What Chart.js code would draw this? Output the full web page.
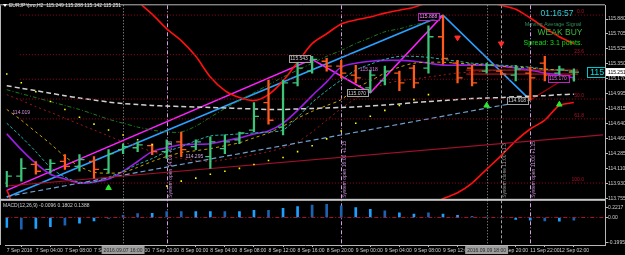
<!DOCTYPE html>
<html>
<head>
<meta charset="utf-8">
<script src="https://cdn.jsdelivr.net/npm/chart.js@4.4.1/dist/chart.umd.min.js"></script>
<style>
  html, body { margin: 0; padding: 0; background: #000; overflow: hidden; }
  #wrap { position: relative; width: 625px; height: 255px; }
</style>
</head>
<body>
<div id="wrap"><canvas id="chart" width="625" height="255"></canvas></div>
<script>
// ============================================
// EURJPY H2 — MT4 style chart
// ============================================

// time axis (one label every 2 bars)
const timeLabels = ['7 Sep 2016', '7 Sep 04:00', '7 Sep 08:00', '7 Sep 12:00', '7 Sep 16:00', '7 Sep 20:00',
  '8 Sep 00:00', '8 Sep 04:00', '8 Sep 08:00', '8 Sep 12:00', '8 Sep 16:00', '8 Sep 20:00',
  '9 Sep 00:00', '9 Sep 04:00', '9 Sep 08:00', '9 Sep 12:00', '9 Sep 16:00', '9 Sep 20:00',
  '11 Sep 22:00', '12 Sep 02:00'];

// OHLC, one entry per H2 bar
const barOpen = [113.934, 114.015, 114.155, 114.097, 114.190, 114.132, 114.190, 114.097, 114.330, 114.353,
  114.377, 114.307, 114.423, 114.365, 114.248, 114.342, 114.447, 114.563, 114.889, 114.598,
  115.122, 115.262, 115.379, 115.321, 115.215, 115.064, 115.146, 115.239, 115.297, 115.297,
  115.670, 115.356, 115.297, 115.262, 115.262, 115.215, 115.239, 115.356, 115.239, 115.249];
const barHigh = [114.074, 114.225, 114.190, 114.213, 114.272, 114.272, 114.248, 114.330, 114.400, 114.423,
  114.400, 114.447, 114.540, 114.447, 114.482, 114.505, 114.540, 114.889, 115.157, 115.157,
  115.356, 115.437, 115.414, 115.391, 115.332, 115.274, 115.321, 115.262, 115.332, 115.799,
  115.925, 115.391, 115.332, 115.356, 115.274, 115.332, 115.309, 115.437, 115.321, 115.288];
const barLow = [113.887, 113.957, 114.038, 114.050, 114.097, 114.074, 113.992, 114.050, 114.283, 114.307,
  114.272, 114.225, 114.248, 114.330, 114.108, 114.283, 114.400, 114.540, 114.633, 114.505,
  115.087, 115.239, 115.262, 115.181, 115.122, 115.006, 115.099, 115.029, 115.064, 115.239,
  115.344, 115.122, 115.087, 115.239, 115.216, 115.146, 114.918, 115.146, 115.204, 115.142];
const barClose = [114.015, 114.108, 114.074, 114.167, 114.132, 114.213, 114.097, 114.283, 114.365, 114.388,
  114.307, 114.400, 114.330, 114.423, 114.423, 114.423, 114.528, 114.726, 114.679, 115.122,
  115.297, 115.402, 115.321, 115.239, 115.181, 115.215, 115.262, 115.122, 115.122, 115.670,
  115.414, 115.181, 115.122, 115.332, 115.227, 115.286, 115.181, 115.215, 115.286, 115.251];

// moving averages / bands (null = not on screen)
const maSlow = [115.088, 115.059, 115.030, 115.000, 114.971, 114.942, 114.919, 114.895, 114.877, 114.866,
  114.854, 114.848, 114.842, 114.837, 114.831, 114.825, 114.819, 114.813, 114.807, 114.807,
  114.813, 114.819, 114.825, 114.831, 114.837, 114.848, 114.860, 114.872, 114.889, 114.901,
  114.913, 114.924, 114.936, 114.942, 114.948, 114.959, 114.965, 114.971, 114.983, 114.988];
const maPurple = [114.517, 114.330, 114.167, 114.039, 113.981, 113.934, 113.945, 113.981, 114.074, 114.190,
  114.307, 114.353, 114.388, 114.394, 114.400, 114.435, 114.470, 114.517, 114.551, 114.644,
  114.796, 114.971, 115.134, 115.309, 115.356, 115.379, 115.390, 115.390, 115.379, 115.356,
  115.333, 115.333, 115.333, 115.333, 115.321, 115.298, 115.274, 115.239, 115.216, 115.181];
const maTeal = [114.644, 114.482, 114.307, 114.120, 114.004, 113.945, 113.945, 114.004, 114.074, 114.155,
  114.225, 114.307, 114.365, 114.435, 114.493, 114.505, 114.517, 114.528, 114.540, 114.563,
  114.715, 114.889, 115.030, 115.157, 115.274, 115.344, 115.402, 115.437, 115.437, 115.425,
  115.402, 115.379, 115.356, 115.344, 115.333, 115.321, 115.309, 115.286, 115.274, 115.262];
const maYellow = [114.807, 114.680, 114.540, 114.400, 114.249, 114.132, 114.062, 114.051, 114.062, 114.120,
  114.190, 114.249, 114.295, 114.318, 114.342, 114.377, 114.412, 114.470, 114.528, 114.609,
  114.703, 114.784, 114.854, 114.924, 115.059, 115.146, 115.239, 115.309, 115.356, 115.367,
  115.367, 115.356, 115.344, 115.333, 115.321, 115.309, 115.298, 115.286, 115.274, 115.262];
const maGreen = [115.041, 114.994, 114.948, 114.901, 114.854, 114.807, 114.750, 114.691, 114.644, 114.598,
  114.563, 114.540, 114.540, 114.609, 114.715, 114.819, 114.913, 115.006, 115.099, 115.192,
  115.274, 115.356, 115.437, 115.507, 115.589, 115.659, 115.729, 115.764, 115.810, 115.845,
  null, null, null, null, null, null, null, null, null, null];
const maDarkRed = [114.983, 114.913, 114.842, 114.773, 114.703, 114.633, 114.563, 114.493, 114.423, 114.365,
  114.307, 114.260, 114.225, 114.202, 114.190, 114.213, 114.237, 114.272, 114.307, 114.353,
  114.423, 114.540, 114.680, 114.819, 114.936, 115.030, 115.111, 115.146, 115.169, 115.192,
  115.216, 115.239, 115.251, 115.262, 115.274, 115.274, 115.274, 115.274, 115.274, 115.274];
const bandUpper = [null, null, null, null, null, null, null, null, 116.265, 116.090,
  115.938, 115.764, 115.624, 115.437, 115.192, 115.030, 114.948, 114.913, 114.983, 115.146,
  115.367, 115.589, 115.705, 115.822, 115.869, 115.904, 115.950, 115.985, 116.020, 116.078,
  116.113, 116.125, 116.125, 116.090, 116.043, 115.997, 115.892, 115.775, 115.670, 115.589];
const bandLower = [113.849, 113.549, null, null, null, null, null, null, null, null,
  null, null, null, null, null, null, null, null, null, null,
  null, null, null, null, null, null, null, null, null, 113.665,
  113.748, 113.818, 113.934, 114.097, 114.260, 114.435, 114.575, 114.680, 114.854, 114.889];
const sarDots = [115.227, 115.123, 115.018, 114.901, 114.807, 114.715, 114.633, 114.563, 114.505, 114.447,
  114.388, 113.899, 113.957, 113.992, 114.039, 114.074, 114.108, 114.155, 114.202, 114.237,
  114.307, 114.377, 114.458, 114.551, 114.644, 114.726, 114.796, 114.854, 114.924, 114.983,
  null, null, null, null, null, null, null, null, null, null];

// zigzags, trend lines and range box (bar index, price)
const zigBlueBars = [0, 30, 36];
const zigBluePrices = [113.766, 115.925, 114.918];
const zigMagentaBars = [0, 21, 25, 30];
const zigMagentaPrices = [113.847, 115.402, 115.006, 115.925];
const zigRedBars = [36, 39];
const zigRedPrices = [114.918, 115.239];
const trendSteelBars = [0, 36];
const trendSteelPrices = [113.774, 114.918];
const trendMaroonBars = [0, 41];
const trendMaroonPrices = [113.899, 114.505];
const rangeBars = [31.6, 39.3];
const rangeTop = 115.274;
const rangeBottom = 115.227;

// signal arrows
const buyArrowBars = [7, 33, 38];
const buyArrowPrices = [113.876, 114.854, 114.866];
const sellArrowBars = [31, 34];
const sellArrowPrices = [115.659, 115.589];

// fibonacci retracement
const fibHigh = 115.927;
const fibLow = 113.934;
const fibRatios = [0, 23.6, 38.2, 50.0, 61.8, 100.0];

// MACD histogram
const macdHist = [-0.072, -0.084, -0.079, -0.067, -0.055, -0.041, -0.024, -0.007, 0.016, 0.029,
  0.031, 0.043, 0.043, 0.043, 0.043, 0.043, 0.043, 0.052, 0.052, 0.067,
  0.079, 0.091, 0.095, 0.084, 0.072, 0.059, 0.048, 0.034, 0.024, 0.034,
  0.024, 0.016, 0.009, 0.002, -0.003, -0.014, -0.019, -0.024, -0.026, -0.019];

// price axis labels
const priceTicks = [115.880, 115.705, 115.525, 115.350, 115.170, 114.995, 114.815, 114.640, 114.460, 114.285, 114.110, 113.930, 113.755];
const macdTickLabels = ['-0.1995', '0.00', '0.2217'];

// --------------------------------------------

const FONT = "'Liberation Sans', Arial, sans-serif";
const X_MIN = -0.1, X_MAX = 41.14;
const Y_MAX = 116.043, Y_MIN = 113.735;
const M_MIN = -0.2, M_MAX = 0.1286;

const UP = '#3cc47a', DOWN = '#ff5a1a';
const barColors = barClose.map((c, i) => c >= barOpen[i] ? UP : DOWN);
const macdShade = 'ldlldlldddlddlldlldlldddlldlldlldddlldld';
const macdColors = macdHist.map((v, i) => macdShade[i] === 'd' ? '#1c62b0' : '#1ea0ff');

const pts = (vals) => vals.map((v, i) => ({ x: i, y: v })).filter(p => p.y != null);
const pair = (bars, prices) => bars.map((b, i) => ({ x: b, y: prices[i] }));

function lineSet(data, color, dash, width, tension) {
  return {
    type: 'line', data, borderColor: color, borderDash: dash || [], borderWidth: width || 1,
    pointRadius: 0, tension: tension == null ? 0.3 : tension, yAxisID: 'y', order: 5
  };
}

const fibPrices = fibRatios.map(r => fibHigh - (fibHigh - fibLow) * r / 100);

const datasets = [
  // bars
  { type: 'bar', data: barHigh.map((h, i) => ({ x: i, y: [barLow[i], h] })), backgroundColor: barColors,
    barThickness: 1.6, grouped: false, yAxisID: 'y', order: 1 },
  { type: 'line', showLine: false, data: barOpen.map((o, i) => ({ x: i - 0.17, y: o })), pointStyle: 'line',
    pointRadius: 2.6, pointBorderWidth: 1.3, pointBorderColor: barColors, yAxisID: 'y', order: 1 },
  { type: 'line', showLine: false, data: barClose.map((c, i) => ({ x: i + 0.17, y: c })), pointStyle: 'line',
    pointRadius: 2.6, pointBorderWidth: 1.3, pointBorderColor: barColors, yAxisID: 'y', order: 1 },

  // fibonacci levels
  ...fibPrices.map(p => lineSet([{ x: 0.9, y: p }, { x: X_MAX, y: p }], '#9a0a1e', [1, 2], 1, 0)),

  // indicators
  lineSet(pts(maSlow), '#d0d0d0', [5, 3], 1.5),
  lineSet(pair(trendMaroonBars, trendMaroonPrices), '#a0102a', [], 1.2, 0),
  lineSet(pair(trendSteelBars, trendSteelPrices), '#6f9fcf', [5, 3], 1.2, 0),
  lineSet(pts(maDarkRed), '#9a1a1a', [2, 3], 1),
  lineSet(pts(maGreen), '#1d7a1d', [4, 2, 1, 2], 1),
  lineSet(pts(maYellow), '#c8a000', [3, 3], 1),
  lineSet(pts(maTeal), '#20b2aa', [3, 2], 1),
  lineSet(pts(maPurple), '#9a1ee6', [], 1.6),
  lineSet(pts(bandUpper), '#ff1010', [], 1.6),
  lineSet(pts(bandLower), '#ff1010', [], 1.6),
  lineSet(rangeBars.map(b => ({ x: b, y: rangeTop })), '#e01818', [], 1, 0),
  lineSet(rangeBars.map(b => ({ x: b, y: rangeBottom })), '#e01818', [], 1, 0),
  lineSet(pair(zigMagentaBars, zigMagentaPrices), '#ff20ff', [], 1.6, 0),
  lineSet(pair(zigBlueBars, zigBluePrices), '#2aa0ff', [], 1.6, 0),
  lineSet(pair(zigRedBars, zigRedPrices), '#b00000', [], 1.2, 0),

  // parabolic SAR
  { type: 'line', showLine: false, data: pts(sarDots), pointStyle: 'rect', pointRadius: 1.1,
    pointBackgroundColor: '#ffff00', pointBorderWidth: 0, yAxisID: 'y', order: 0 },
  // arrows
  { type: 'line', showLine: false, data: pair(buyArrowBars, buyArrowPrices), pointStyle: 'triangle', pointRadius: 3.2,
    pointBackgroundColor: '#2ee62e', pointBorderColor: '#2ee62e', yAxisID: 'y', order: 0 },
  { type: 'line', showLine: false, data: pair(sellArrowBars, sellArrowPrices), pointStyle: 'triangle', pointRotation: 180,
    pointRadius: 3.2, pointBackgroundColor: '#ff2a2a', pointBorderColor: '#ff2a2a', yAxisID: 'y', order: 0 },

  // MACD
  { type: 'bar', data: macdHist.map((v, i) => ({ x: i, y: v })), backgroundColor: macdColors,
    barThickness: 2, grouped: false, yAxisID: 'y2', order: 2 },
  { type: 'line', data: [{ x: X_MIN, y: 0 }, { x: X_MAX, y: 0 }], borderColor: '#b0102a', borderDash: [4, 2, 1, 2],
    borderWidth: 1, pointRadius: 0, yAxisID: 'y2', order: 3 }
];

// event lines and their notes
const vLines = [
  { bar: 8, color: '#a0a0a0', dash: [1, 2] },
  { bar: 11, color: '#d49ee0', dash: [4, 2, 1, 2], note: 'System open 14:00 +1.18' },
  { bar: 23, color: '#d49ee0', dash: [4, 2, 1, 2], note: 'System open 16:00 +1.15' },
  { bar: 33, color: '#a0a0a0', dash: [1, 2] },
  { bar: 34, color: '#a0a0a0', dash: [3, 2], note: 'System close 11:00 +1.3' },
  { bar: 36, color: '#d49ee0', dash: [4, 2, 1, 2], note: 'System open 11:00 +1.15' }
];
const timeMarks = [{ bar: 8, text: '2016.09.07 16:00' }, { bar: 33, text: '2016.09.09 18:00' }];
const priceNotes = [
  { bar: 20.1, price: 115.414, text: '115.543', color: '#d0d0d0', box: '#a0a0a0' },
  { bar: 24.9, price: 115.280, text: '115.318', color: '#e070e0' },
  { bar: 24.1, price: 115.006, text: '115.070', color: '#d0d0d0', box: '#a0a0a0' },
  { bar: 29.0, price: 115.915, text: '115.888', color: '#ff90ff', box: '#c020c0' },
  { bar: 35.1, price: 114.913, text: '114.918', color: '#d0d0d0', box: '#a0a0a0' },
  { bar: 1.0, price: 114.779, text: '114.019', color: '#d090d0' },
  { bar: 12.9, price: 114.254, text: '114.295', color: '#d0a0e0' },
  { bar: 37.9, price: 115.175, text: '115.170', color: '#e070e0', box: '#c020c0' }
];

function txt(ctx, s, x, y, color, size, align, base) {
  ctx.fillStyle = color;
  ctx.font = size + 'px ' + FONT;
  ctx.textAlign = align || 'left';
  ctx.textBaseline = base || 'middle';
  ctx.fillText(s, x, y);
}

const overlay = {
  id: 'overlay',
  beforeDatasetsDraw(chart) {
    const { ctx, chartArea: a, scales: { x } } = chart;
    ctx.save();
    ctx.lineWidth = 1;
    vLines.forEach(v => {
      const px = Math.round(x.getPixelForValue(v.bar)) + 0.5;
      ctx.strokeStyle = v.color;
      ctx.setLineDash(v.dash);
      ctx.beginPath(); ctx.moveTo(px, a.top); ctx.lineTo(px, a.bottom); ctx.stroke();
    });
    ctx.restore();
  },
  afterDraw(chart) {
    const { ctx, chartArea: a, scales: { x, y, y2 } } = chart;
    ctx.save();

    // pane frames
    ctx.strokeStyle = '#b8b8b8'; ctx.lineWidth = 1; ctx.setLineDash([]);
    ctx.beginPath();
    ctx.moveTo(0.5, a.top); ctx.lineTo(0.5, a.bottom);
    ctx.moveTo(0, a.top - 0.5); ctx.lineTo(a.right, a.top - 0.5);
    ctx.stroke();
    ctx.fillStyle = '#c8c8c8';
    ctx.fillRect(0, y.bottom - 1, a.right, 2);

    // notes on event lines
    vLines.filter(v => v.note).forEach(v => {
      const px = Math.round(x.getPixelForValue(v.bar)) + 1.5;
      ctx.save();
      ctx.translate(px, y.bottom - 2);
      ctx.rotate(-Math.PI / 2);
      txt(ctx, v.note, 0, 0, v.color === '#a0a0a0' ? '#9a9a9a' : '#c890d8', 5, 'left', 'top');
      ctx.restore();
    });

    // fibonacci labels
    fibPrices.forEach((p, k) => {
      if (k === 2) return;
      txt(ctx, fibRatios[k].toFixed(1), a.right - 21, y.getPixelForValue(p) - 1, '#b0102a', 5, 'right', 'bottom');
    });

    // price notes
    priceNotes.forEach(n => {
      const px = x.getPixelForValue(n.bar), py = y.getPixelForValue(n.price);
      ctx.font = '5px ' + FONT;
      const w = ctx.measureText(n.text).width + 3;
      if (n.box) {
        ctx.fillStyle = '#000';
        ctx.fillRect(px - w / 2, py - 3.5, w, 7);
        ctx.strokeStyle = n.box;
        ctx.strokeRect(Math.round(px - w / 2) + 0.5, Math.round(py - 3.5) + 0.5, Math.round(w), 7);
      }
      txt(ctx, n.text, px, py + 0.5, n.color, 5, 'center');
    });

    // right edge price tag (clipped by axis)
    const lastPrice = barClose[barClose.length - 1];
    const cy = y.getPixelForValue(lastPrice);
    ctx.save();
    ctx.beginPath(); ctx.rect(0, 0, a.right, chart.height); ctx.clip();
    ctx.strokeStyle = '#00c8c8';
    ctx.strokeRect(587.5, Math.round(cy - 5) + 0.5, 30, 10);
    txt(ctx, lastPrice.toFixed(3), 590, cy + 0.5, '#00e0e0', 9, 'left');
    ctx.restore();

    // current price on axis
    ctx.fillStyle = '#ffffff';
    ctx.fillRect(a.right + 1, cy - 4, 20, 8);
    txt(ctx, lastPrice.toFixed(3), a.right + 3, cy + 0.5, '#000', 5, 'left');

    // headers
    ctx.fillStyle = '#ffffff';
    ctx.beginPath(); ctx.moveTo(3, 4); ctx.lineTo(7, 4); ctx.lineTo(5, 7); ctx.fill();
    txt(ctx, 'EURJPYpro,H2  115.249 115.288 115.142 115.251', 9, 5.5, '#e8e8e8', 5);
    txt(ctx, 'MACD(12,26,9) -0.0096 0.1802 0.1388', 3, y2.top + 5.5, '#d0d0d0', 5);

    // signal panel
    txt(ctx, '01:16:57', 557, 14, '#2fd0d8', 8.5, 'center');
    txt(ctx, 'Moving Average Signal', 553, 24, '#2e8b57', 5.5, 'center');
    txt(ctx, 'WEAK BUY', 560, 33, '#39b839', 8.5, 'center');
    txt(ctx, 'Spread: 3.1 points.', 553, 43, '#10e010', 7, 'center');

    // time axis marks
    timeMarks.forEach(m => {
      const px = x.getPixelForValue(m.bar);
      ctx.font = '5px ' + FONT;
      const w = ctx.measureText(m.text).width + 4;
      ctx.fillStyle = '#9c9c9c';
      ctx.fillRect(px - w / 2, a.bottom + 1, w, 8);
      txt(ctx, m.text, px, a.bottom + 5.5, '#2a2a2a', 5, 'center');
    });
    ctx.restore();
  }
};

const axisFont = { size: 5, family: FONT };

new Chart(document.getElementById('chart'), {
  type: 'bar',
  data: { datasets },
  plugins: [overlay],
  options: {
    responsive: false,
    animation: false,
    devicePixelRatio: 1,
    layout: { padding: { top: 1, left: 0, right: 0, bottom: 0 } },
    plugins: { legend: { display: false }, tooltip: { enabled: false } },
    scales: {
      x: {
        type: 'linear', min: X_MIN, max: X_MAX, offset: false,
        afterBuildTicks: s => { s.ticks = timeLabels.map((t, k) => ({ value: 2 * k })); },
        afterFit: s => { s.height = 10; },
        ticks: { callback: (v, k) => timeLabels[k], align: 'start', color: '#d0d0d0', font: axisFont,
          maxRotation: 0, autoSkip: false, padding: 1 },
        grid: { drawOnChartArea: false, color: '#b8b8b8', tickLength: 2 },
        border: { color: '#b8b8b8' }
      },
      y: {
        type: 'linear', position: 'right', stack: 'panes', stackWeight: 198, min: Y_MIN, max: Y_MAX,
        afterBuildTicks: s => { s.ticks = priceTicks.map(v => ({ value: v })); },
        afterFit: s => { s.width = 20; },
        ticks: { callback: v => v.toFixed(3), color: '#d0d0d0', font: axisFont, padding: 0, autoSkip: false },
        grid: { drawOnChartArea: false, color: '#b8b8b8', tickLength: 3 },
        border: { color: '#b8b8b8' }
      },
      y2: {
        type: 'linear', position: 'right', stack: 'panes', stackWeight: 46, min: M_MIN, max: M_MAX,
        afterBuildTicks: s => { s.ticks = [-0.18, 0, 0.0714].map(v => ({ value: v })); },
        afterFit: s => { s.width = 20; },
        ticks: { callback: (v, k) => macdTickLabels[k], color: '#d0d0d0', font: axisFont, padding: 0, autoSkip: false },
        grid: { drawOnChartArea: false, color: '#b8b8b8', tickLength: 3 },
        border: { color: '#b8b8b8' }
      }
    }
  }
});
</script>
</body>
</html>
